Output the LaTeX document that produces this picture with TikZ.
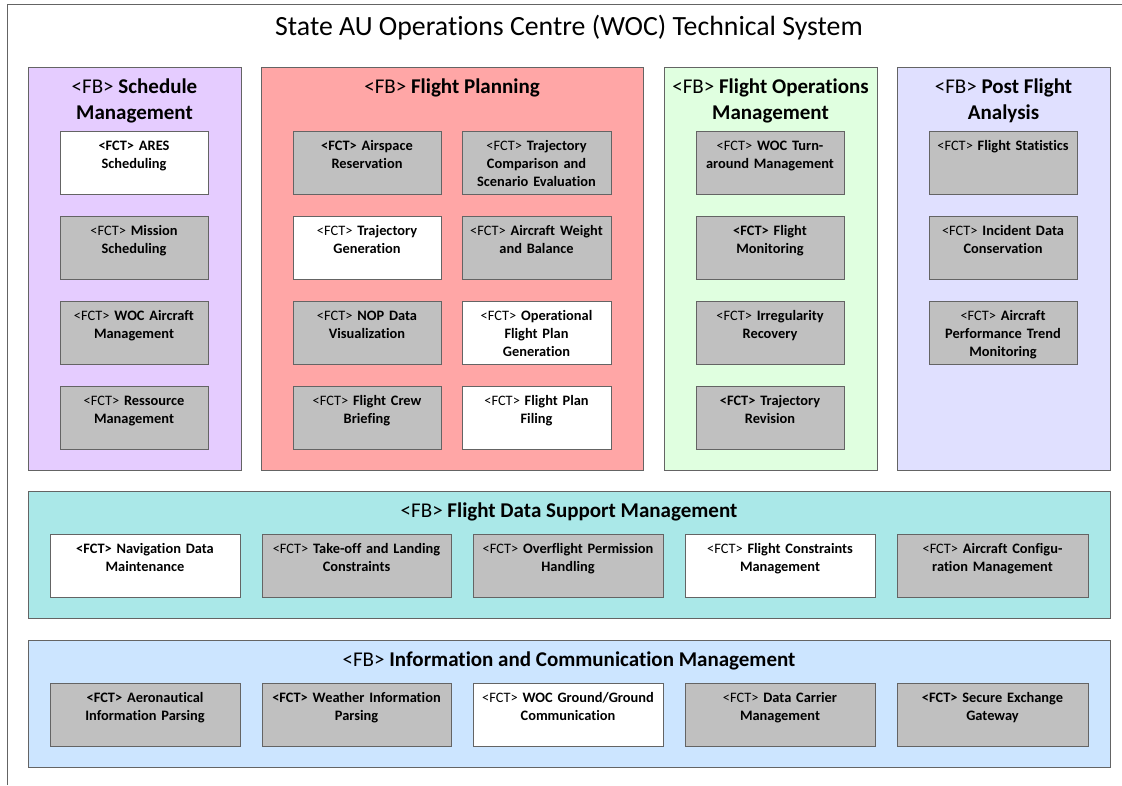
\documentclass[tikz,border=0pt]{standalone}
\usepackage{fontspec}
\setmainfont{Carlito}[Ligatures=NoCommon]
\definecolor{schedc}{RGB}{229,204,255}
\definecolor{planc}{RGB}{255,166,166}
\definecolor{opsc}{RGB}{224,255,224}
\definecolor{postc}{RGB}{224,224,255}
\definecolor{fdsc}{RGB}{170,232,232}
\definecolor{icmc}{RGB}{204,229,255}
\definecolor{fctgray}{RGB}{192,192,192}
\definecolor{edgec}{RGB}{100,100,100}
\newcommand\R{<FCT>}
\newcommand\B{\textbf{<FCT>}}
\newcommand\FB{<FB>}
\newcommand\fctbox[6]{%
  \node[fct, fill=#5, minimum width=#4 pt] (#1) at (#2,#3) {};
  \node[fcttext, text width=#4 pt] (#1t) at ([yshift=-10pt]#1.north) {#6};
}
\begin{document}
\begin{tikzpicture}[x=1pt,y=-1pt,
  fb/.style={draw=edgec, line width=1pt, rectangle, inner sep=0pt},
  fct/.style={draw=edgec, line width=1pt, rectangle, inner sep=0pt, minimum height=63pt},
  fcttext/.style={anchor=north, align=center, inner sep=0pt, font=\fontsize{14.4}{18}\selectfont},
  fbtext/.style={anchor=north, align=center, inner sep=0pt, font=\fontsize{21}{25.5}\selectfont},
  titletext/.style={font=\fontsize{27.8}{32}\selectfont, inner sep=0pt}]
\useasboundingbox (0,0) rectangle (1122,785);
\fill[white] (0,0) rectangle (1122,785);
\draw[edgec, line width=1pt] (7,785) -- (7,4) -- (1122,4);
\node[titletext] (title) at (569,28) {State AU Operations Centre (WOC) Technical System};

% functional blocks
\node[fb, fill=schedc, minimum width=213pt, minimum height=403pt] (sched) at (134.5,268.5) {};
\node[fb, fill=planc, minimum width=382pt, minimum height=403pt] (plan) at (452,268.5) {};
\node[fb, fill=opsc, minimum width=213pt, minimum height=403pt] (ops) at (770.5,268.5) {};
\node[fb, fill=postc, minimum width=213pt, minimum height=403pt] (post) at (1003.5,268.5) {};
\node[fb, fill=fdsc, minimum width=1082pt, minimum height=127pt] (fds) at (569,554.5) {};
\node[fb, fill=icmc, minimum width=1082pt, minimum height=127pt] (icm) at (569,703.5) {};

\node[fbtext] (schedh) at ([yshift=-12.5pt]sched.north) {\FB{} \textbf{Schedule}\\\textbf{Management}};
\node[fbtext] (planh) at ([yshift=-12.5pt]plan.north) {\FB{} \textbf{Flight Planning}};
\node[fbtext] (opsh) at ([yshift=-12.5pt]ops.north) {\FB{} \textbf{Flight Operations}\\\textbf{Management}};
\node[fbtext] (posth) at ([yshift=-12.5pt]post.north) {\FB{} \textbf{Post Flight}\\\textbf{Analysis}};
\node[fbtext] (fdsh) at ([yshift=-12.5pt]fds.north) {\FB{} \textbf{Flight Data Support Management}};
\node[fbtext] (icmh) at ([yshift=-12.5pt]icm.north) {\FB{} \textbf{Information and Communication Management}};

% Schedule Management
\fctbox{ares}{134}{162.5}{148}{white}{\B{} \textbf{ARES}\\\textbf{Scheduling}}
\fctbox{mission}{134}{247.5}{148}{fctgray}{\R{} \textbf{Mission}\\\textbf{Scheduling}}
\fctbox{wocac}{134}{332.5}{148}{fctgray}{\R{} \textbf{WOC Aircraft}\\\textbf{Management}}
\fctbox{ress}{134}{417.5}{148}{fctgray}{\R{} \textbf{Ressource}\\\textbf{Management}}

% Flight Planning
\fctbox{airsp}{367}{162.5}{148}{fctgray}{\B{} \textbf{Airspace}\\\textbf{Reservation}}
\fctbox{trajcomp}{536.5}{162.5}{149}{fctgray}{\R{} \textbf{Trajectory}\\\textbf{Comparison and}\\\textbf{Scenario Evaluation}}
\fctbox{trajgen}{367}{247.5}{148}{white}{\R{} \textbf{Trajectory}\\\textbf{Generation}}
\fctbox{weight}{536.5}{247.5}{149}{fctgray}{\R{} \textbf{Aircraft Weight}\\\textbf{and Balance}}
\fctbox{nop}{367}{332.5}{148}{fctgray}{\R{} \textbf{NOP Data}\\\textbf{Visualization}}
\fctbox{ofp}{536.5}{332.5}{149}{white}{\R{} \textbf{Operational}\\\textbf{Flight Plan}\\\textbf{Generation}}
\fctbox{crew}{367}{417.5}{148}{fctgray}{\R{} \textbf{Flight Crew}\\\textbf{Briefing}}
\fctbox{filing}{536.5}{417.5}{149}{white}{\R{} \textbf{Flight Plan}\\\textbf{Filing}}

% Flight Operations Management
\fctbox{turn}{770}{162.5}{148}{fctgray}{\R{} \textbf{WOC Turn-}\\\textbf{around Management}}
\fctbox{fmon}{770}{247.5}{148}{fctgray}{\B{} \textbf{Flight}\\\textbf{Monitoring}}
\fctbox{irreg}{770}{332.5}{148}{fctgray}{\R{} \textbf{Irregularity}\\\textbf{Recovery}}
\fctbox{trajrev}{770}{417.5}{148}{fctgray}{\B{} \textbf{Trajectory}\\\textbf{Revision}}

% Post Flight Analysis
\fctbox{stats}{1003}{162.5}{148}{fctgray}{\R{} \textbf{Flight Statistics}}
\fctbox{incident}{1003}{247.5}{148}{fctgray}{\R{} \textbf{Incident Data}\\\textbf{Conservation}}
\fctbox{trend}{1003}{332.5}{148}{fctgray}{\R{} \textbf{Aircraft}\\\textbf{Performance Trend}\\\textbf{Monitoring}}

% Flight Data Support Management
\fctbox{nav}{145}{565.5}{190}{white}{\B{} \textbf{Navigation Data}\\\textbf{Maintenance}}
\fctbox{tol}{356.5}{565.5}{189}{fctgray}{\R{} \textbf{Take-off and Landing}\\\textbf{Constraints}}
\fctbox{overfl}{568}{565.5}{190}{fctgray}{\R{} \textbf{Overflight Permission}\\\textbf{Handling}}
\fctbox{fconstr}{780}{565.5}{190}{white}{\R{} \textbf{Flight Constraints}\\\textbf{Management}}
\fctbox{config}{992.5}{565.5}{191}{fctgray}{\R{} \textbf{Aircraft Configu-}\\\textbf{ration Management}}

% Information and Communication Management
\fctbox{aero}{145}{714.5}{190}{fctgray}{\B{} \textbf{Aeronautical}\\\textbf{Information Parsing}}
\fctbox{weather}{356.5}{714.5}{189}{fctgray}{\B{} \textbf{Weather Information}\\\textbf{Parsing}}
\fctbox{gg}{568}{714.5}{190}{white}{\R{} \textbf{WOC Ground/Ground}\\\textbf{Communication}}
\fctbox{carrier}{780}{714.5}{190}{fctgray}{\R{} \textbf{Data Carrier}\\\textbf{Management}}
\fctbox{sec}{992.5}{714.5}{191}{fctgray}{\B{} \textbf{Secure Exchange}\\\textbf{Gateway}}
\end{tikzpicture}
\end{document}
